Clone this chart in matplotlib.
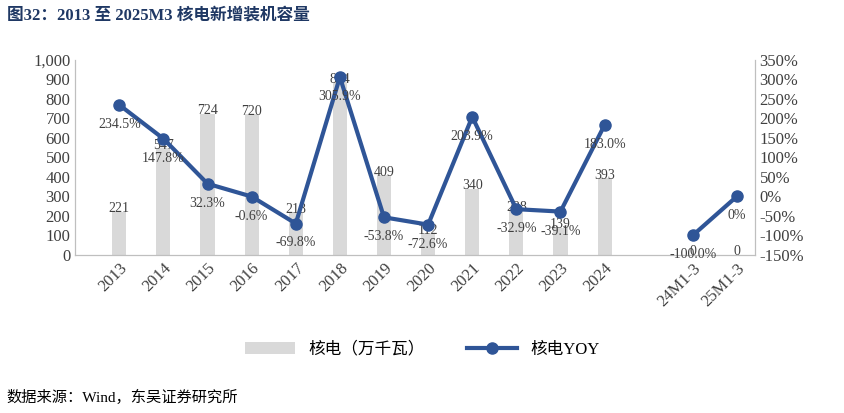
import matplotlib.pyplot as plt
import numpy as np
from matplotlib.ticker import FuncFormatter

plt.rcParams['font.family'] = ['Liberation Serif', 'Noto Sans CJK SC']

categories = ["2013", "2014", "2015", "2016", "2017", "2018", "2019", "2020",
              "2021", "2022", "2023", "2024", "", "24M1-3", "25M1-3"]
capacity = [221, 547, 724, 720, 218, 884, 409, 112, 340, 228, 139, 393, None, 0, 0]
yoy = [234.5, 147.8, 32.3, -0.6, -69.8, 305.9, -53.8, -72.6, 203.9, -32.9, -39.1, 183.0, None, -100.0, 0.0]

x = np.arange(len(categories))
bar_vals = np.array([np.nan if v is None else v for v in capacity], dtype=float)
yoy_vals = np.array([np.nan if v is None else v for v in yoy], dtype=float)

fig = plt.figure(figsize=(8.45, 4.13), dpi=100)
ax = fig.add_axes([0.089, 0.383, 0.804, 0.472])
ax2 = ax.twinx()

ax.bar(x, np.nan_to_num(bar_vals), width=0.32, color="#d9d9d9", label="核电（万千瓦）", zorder=1)
ax.set_ylim(0, 1000)
ax.set_yticks(range(0, 1001, 100))
ax.yaxis.set_major_formatter(FuncFormatter(lambda v, p: f"{int(v):,}"))
ax.set_xlim(-1.0, len(categories) - 0.6)
ax.set_xticks(x)
ax.set_xticklabels(categories, rotation=45, ha="right", rotation_mode="anchor")
for xi, v in zip(x, bar_vals):
    if not np.isnan(v):
        ax.text(xi, v + 15, f"{int(v)}", ha="center", va="center", fontsize=10, color="#404040")

ax2.plot(x, yoy_vals, color="#2f5597", lw=3, marker="o", ms=8, label="核电YOY", zorder=3)
ax2.set_ylim(-150, 350)
ax2.set_yticks(range(-150, 351, 50))
ax2.yaxis.set_major_formatter(FuncFormatter(lambda v, p: f"{int(v)}%"))
for xi, v in zip(x, yoy_vals):
    if not np.isnan(v):
        ax2.annotate(f"{v:.1f}%" if v != 0 else "0%", (xi, v), xytext=(0, -14),
                     textcoords="offset points", ha="center", va="center",
                     fontsize=10, color="#404040")

for a in (ax, ax2):
    a.spines["top"].set_visible(False)
    for s in ("left", "right", "bottom"):
        a.spines[s].set_color("#bfbfbf")
    a.tick_params(labelsize=12, colors="#404040", length=0)
ax.tick_params(axis="x", length=0, pad=4)

h1, l1 = ax.get_legend_handles_labels()
h2, l2 = ax2.get_legend_handles_labels()
fig.legend(h1 + h2, l1 + l2, loc="center", bbox_to_anchor=(0.5, 0.153), ncol=2,
           frameon=False, fontsize=12, handlelength=3, columnspacing=2.5)

fig.text(0.008, 0.962, "图32：2013 至 2025M3 核电新增装机容量", fontsize=12, fontweight="bold",
         color="#1f3864", va="center")
fig.text(0.008, 0.038, "数据来源：Wind，东吴证券研究所", fontsize=11, va="center", color="#000000")

fig.savefig("out.png", dpi=100)
